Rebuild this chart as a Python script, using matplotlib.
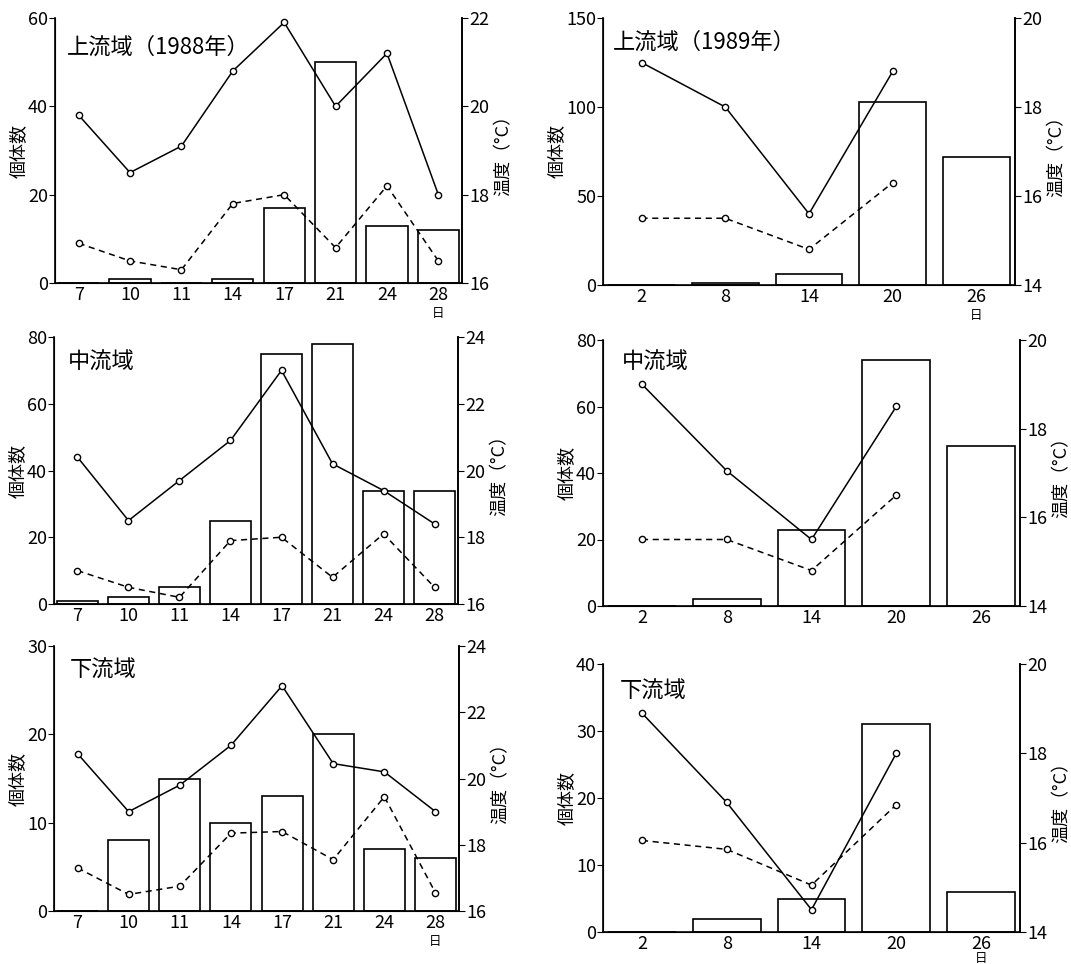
import matplotlib
matplotlib.use('Agg')
import matplotlib.pyplot as plt
import numpy as np

plt.rcParams['font.family'] = ['Noto Sans CJK JP', 'DejaVu Sans']

# --- データ ---
days_1988 = ['7', '10', '11', '14', '17', '21', '24', '28']
days_1989 = ['2', '8', '14', '20', '26']

# 上流域 1988
up88_count = [0, 1, 0, 1, 17, 50, 13, 12]
up88_temp_a = [19.8, 18.5, 19.1, 20.8, 21.9, 20.0, 21.2, 18.0]
up88_temp_b = [16.9, 16.5, 16.3, 17.8, 18.0, 16.8, 18.2, 16.5]
# 上流域 1989
up89_count = [0, 1, 6, 103, 72]
up89_temp_a = [19.0, 18.0, 15.6, 18.8, np.nan]
up89_temp_b = [15.5, 15.5, 14.8, 16.3, np.nan]
# 中流域 1988
mid88_count = [1, 2, 5, 25, 75, 78, 34, 34]
mid88_temp_a = [20.4, 18.5, 19.7, 20.9, 23.0, 20.2, 19.4, 18.4]
mid88_temp_b = [17.0, 16.5, 16.2, 17.9, 18.0, 16.8, 18.1, 16.5]
# 中流域 1989
mid89_count = [0, 2, 23, 74, 48]
mid89_temp_a = [19.0, 17.05, 15.5, 18.5, np.nan]
mid89_temp_b = [15.5, 15.5, 14.8, 16.5, np.nan]
# 下流域 1988
low88_count = [0, 8, 15, 10, 13, 20, 7, 6]
low88_temp_a = [20.75, 19.0, 19.8, 21.0, 22.8, 20.45, 20.2, 19.0]
low88_temp_b = [17.3, 16.5, 16.75, 18.35, 18.4, 17.55, 19.45, 16.55]
# 下流域 1989
low89_count = [0, 2, 5, 31, 6]
low89_temp_a = [18.9, 16.9, 14.5, 18.0, np.nan]
low89_temp_b = [16.05, 15.85, 15.05, 16.85, np.nan]

panels = [
    # label, days, count, temp_a, temp_b, count ticks, temp ticks, rect(px), title pos, 日 offset
    ('上流域（1988年）', days_1988, up88_count, up88_temp_a, up88_temp_b,
     [0, 20, 40, 60], [16, 18, 20, 22], (55, 18, 462, 283), (0.03, 0.89), -22),
    ('上流域（1989年）', days_1989, up89_count, up89_temp_a, up89_temp_b,
     [0, 50, 100, 150], [14, 16, 18, 20], (603, 18, 1015, 285), (0.025, 0.91), -22),
    ('中流域', days_1988, mid88_count, mid88_temp_a, mid88_temp_b,
     [0, 20, 40, 60, 80], [16, 18, 20, 22, 24], (54, 337, 458, 604), (0.035, 0.905), None),
    ('中流域', days_1989, mid89_count, mid89_temp_a, mid89_temp_b,
     [0, 20, 40, 60, 80], [14, 16, 18, 20], (603, 340, 1020, 606), (0.045, 0.915), None),
    ('下流域', days_1988, low88_count, low88_temp_a, low88_temp_b,
     [0, 10, 20, 30], [16, 18, 20, 22, 24], (54, 646, 459, 911), (0.04, 0.91), -22),
    ('下流域', days_1989, low89_count, low89_temp_a, low89_temp_b,
     [0, 10, 20, 30, 40], [14, 16, 18, 20], (603, 664, 1020, 932), (0.04, 0.90), -19),
]

W, H = 1071, 964
fig = plt.figure(figsize=(W / 100, H / 100), dpi=100)

for label, days, count, ta, tb, cticks, tticks, (x0, y0, x1, y1), tpos, day_off in panels:
    ax = fig.add_axes([x0 / W, 1 - y1 / H, (x1 - x0) / W, (y1 - y0) / H])
    x = np.arange(len(days))
    ax.bar(x, count, width=0.8, facecolor='white', edgecolor='black', linewidth=1.2, zorder=2)
    ax.set_xlim(-0.46, len(days) - 0.54)
    ax.set_ylim(cticks[0], cticks[-1])
    ax.set_yticks(cticks)
    ax.set_xticks(x)
    ax.set_xticklabels(days)
    ax.spines['top'].set_visible(False)
    ax.tick_params(axis='x', length=0, labelsize=13, pad=2)
    ax.tick_params(axis='y', direction='out', length=4, labelsize=13, pad=1)
    ax.set_ylabel('個体数', fontsize=13, labelpad=0)
    for s in ['left', 'bottom', 'right']:
        ax.spines[s].set_linewidth(1.2)

    ax2 = ax.twinx()
    ax2.plot(x, ta, '-', color='black', lw=1.1, marker='o', ms=4.5,
             mfc='white', mec='black', mew=1.0, zorder=3)
    ax2.plot(x, tb, '--', color='black', lw=1.1, marker='o', ms=4.5,
             mfc='white', mec='black', mew=1.0, zorder=3, dashes=(4, 3))
    ax2.set_ylim(tticks[0], tticks[-1])
    ax2.set_yticks(tticks)
    ax2.spines['top'].set_visible(False)
    ax2.spines['right'].set_linewidth(1.2)
    ax2.tick_params(axis='y', direction='out', length=4, labelsize=13, pad=1)
    ax2.set_ylabel('温度（°C）', fontsize=13, labelpad=4)

    ax.text(tpos[0], tpos[1], label, transform=ax.transAxes, fontsize=16,
            ha='left', va='center')
    if day_off is not None:
        ax.annotate('日', xy=(x[-1], 0), xycoords=('data', 'axes fraction'),
                    xytext=(0, day_off), textcoords='offset points',
                    ha='center', va='center', fontsize=9)

fig.savefig('out.png', dpi=100, facecolor='white')
